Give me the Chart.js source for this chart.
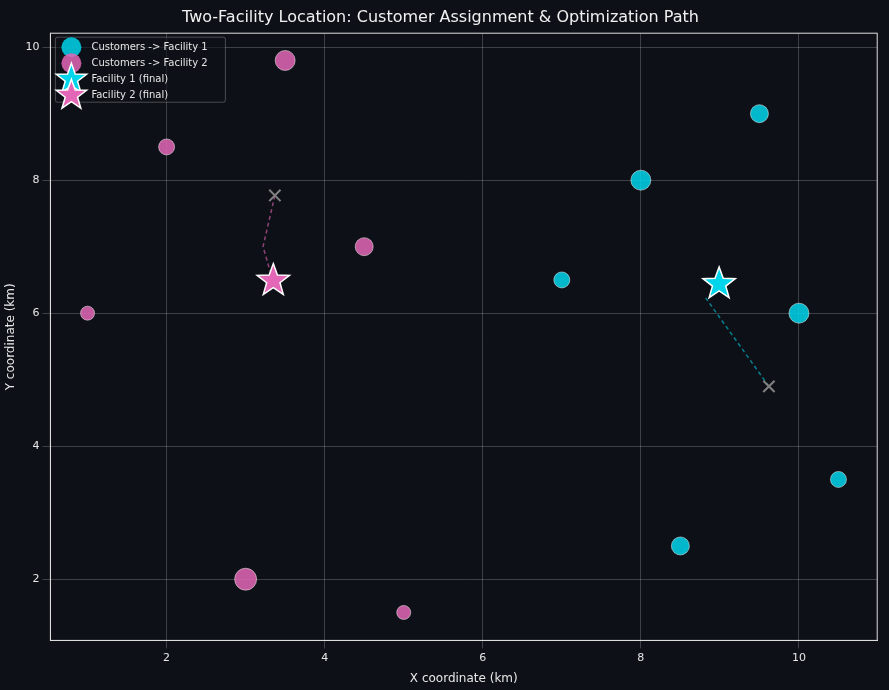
<!DOCTYPE html>
<html><head><meta charset="utf-8">
<script src="https://cdn.jsdelivr.net/npm/chart.js@4/dist/chart.umd.min.js"></script>
<style>html,body{margin:0;background:#0d1117}#wrap{width:889px;height:690px}</style>
</head><body><div id="wrap"><canvas id="c"></canvas></div>
<script>
// customer data
const f1Customers = [{x:8,y:8,r:10},{x:9.5,y:9,r:9},{x:7,y:6.5,r:8},{x:10,y:6,r:10},{x:10.5,y:3.5,r:8},{x:8.5,y:2.5,r:9}];
const f2Customers = [{x:3.5,y:9.8,r:10},{x:2,y:8.5,r:8},{x:4.5,y:7,r:9},{x:1,y:6,r:7},{x:3,y:2,r:11},{x:5,y:1.5,r:7}];
// optimization paths (start -> final)
const f1Path = [{x:9.62,y:4.9},{x:8.82,y:6.23}];
const f2Path = [{x:3.37,y:7.77},{x:3.22,y:7.0},{x:3.33,y:6.55}];
const f1Final = [{x:8.99,y:6.44}];
const f2Final = [{x:3.35,y:6.49}];
const starts = [{x:9.62,y:4.9},{x:3.37,y:7.77}];

const CYAN = "#00d5eb", PINK = "#e466b6";
const grid = "rgba(255,255,255,0.2)";

const legendPlugin = {
  id: "insideLegend",
  afterDraw(chart) {
    const ctx = chart.ctx, a = chart.chartArea;
    const items = [["Customers -> Facility 1","c",CYAN],["Customers -> Facility 2","c",PINK],["Facility 1 (final)","s",CYAN],["Facility 2 (final)","s",PINK]];
    const x0 = a.left + 5, y0 = a.top + 4;
    ctx.save();
    ctx.fillStyle = "rgba(13,17,23,0.6)";
    ctx.strokeStyle = "rgba(255,255,255,0.25)";
    ctx.lineWidth = 1;
    ctx.beginPath(); ctx.roundRect(x0, y0, 170, 65, 2); ctx.fill(); ctx.stroke();
    ctx.font = "10px 'DejaVu Sans'";
    ctx.textBaseline = "middle";
    items.forEach((it, i) => {
      const cy = y0 + 10 + i * 16, cx = x0 + 16;
      if (it[1] === "c") {
        ctx.globalAlpha = 0.85; ctx.fillStyle = it[2];
        ctx.beginPath(); ctx.arc(cx, cy, 10, 0, Math.PI*2); ctx.fill();
      } else {
        ctx.globalAlpha = 1; ctx.fillStyle = it[2]; ctx.strokeStyle = "#fff"; ctx.lineWidth = 1.5;
        ctx.beginPath();
        for (let k = 0; k < 10; k++) {
          const r = k % 2 ? 6.5 : 16, ang = -Math.PI/2 + k*Math.PI/5;
          ctx.lineTo(cx + r*Math.cos(ang), cy + r*Math.sin(ang));
        }
        ctx.closePath(); ctx.fill(); ctx.stroke();
      }
      ctx.globalAlpha = 1; ctx.fillStyle = "#e6e6e6";
      ctx.fillText(it[0], x0 + 36, cy);
    });
    ctx.restore();
  }
};
const framePlugin = {
  id: "frame",
  afterDatasetsDraw(chart) {
    const ctx = chart.ctx, a = chart.chartArea;
    ctx.save(); ctx.strokeStyle = "#ddd"; ctx.lineWidth = 1;
    ctx.strokeRect(a.left, a.top, a.right - a.left, a.bottom - a.top); ctx.restore();
  }
};

new Chart(document.getElementById("c"), {
  type: "scatter",
  data: { datasets: [
    { data: f1Path, showLine: true, borderColor: "rgba(0,200,220,0.6)", borderDash: [4,3], borderWidth: 1.5, pointRadius: 0, order: 5 },
    { data: f2Path, showLine: true, borderColor: "rgba(228,102,182,0.6)", borderDash: [4,3], borderWidth: 1.5, pointRadius: 0, order: 5 },
    { data: f1Customers, backgroundColor: "rgba(0,213,235,0.85)", borderColor: "rgba(255,255,255,0.6)", borderWidth: 0.8, pointRadius: c => c.raw ? c.raw.r : 8, order: 3 },
    { data: f2Customers, backgroundColor: "rgba(228,102,182,0.85)", borderColor: "rgba(255,255,255,0.6)", borderWidth: 0.8, pointRadius: c => c.raw ? c.raw.r : 8, order: 3 },
    { data: starts, pointStyle: "crossRot", pointRadius: 8, borderColor: "#808080", borderWidth: 2, order: 2 },
    { data: f1Final, pointStyle: "star", pointRadius: 0.1, order: 1 },
    { data: f2Final, pointStyle: "star", pointRadius: 0.1, order: 1 }
  ]},
  options: {
    responsive: true, maintainAspectRatio: false, animation: false,
    layout: { padding: { right: 8, top: 0 } },
    plugins: {
      legend: { display: false }, tooltip: { enabled: false },
      title: { display: true, text: "Two-Facility Location: Customer Assignment & Optimization Path", color: "#f0f0f0", font: { size: 16, family: "DejaVu Sans", weight: "normal" }, padding: { top: 8, bottom: 6 } }
    },
    scales: {
      x: { min: 0.53, max: 10.99, grid: { color: grid }, border: { color: "#ddd" },
        ticks: { color: "#e6e6e6", stepSize: 2, font: { size: 11, family: "DejaVu Sans" }, callback: v => (v % 2 === 0 ? v : null) },
        afterBuildTicks: ax => { ax.ticks = [2,4,6,8,10].map(v => ({ value: v })); },
        title: { display: true, text: "X coordinate (km)", color: "#e6e6e6", font: { size: 12, family: "DejaVu Sans" } } },
      y: { min: 1.08, max: 10.21, grid: { color: grid }, border: { color: "#ddd" },
        ticks: { color: "#e6e6e6", font: { size: 11, family: "DejaVu Sans" } },
        afterBuildTicks: ax => { ax.ticks = [2,4,6,8,10].map(v => ({ value: v })); },
        title: { display: true, text: "Y coordinate (km)", color: "#e6e6e6", font: { size: 12, family: "DejaVu Sans" } } }
    }
  },
  plugins: [framePlugin, legendPlugin, {
    id: "stars",
    afterDatasetsDraw(chart) {
      const ctx = chart.ctx, xs = chart.scales.x, ys = chart.scales.y;
      [[f1Final[0], CYAN], [f2Final[0], PINK]].forEach(([p, col]) => {
        const cx = xs.getPixelForValue(p.x), cy = ys.getPixelForValue(p.y);
        ctx.save(); ctx.fillStyle = col; ctx.strokeStyle = "#fff"; ctx.lineWidth = 1.5;
        ctx.beginPath();
        for (let k = 0; k < 10; k++) {
          const r = k % 2 ? 7 : 17, ang = -Math.PI/2 + k*Math.PI/5;
          ctx.lineTo(cx + r*Math.cos(ang), cy + r*Math.sin(ang));
        }
        ctx.closePath(); ctx.fill(); ctx.stroke(); ctx.restore();
      });
    }
  }]
});
</script></body></html>
